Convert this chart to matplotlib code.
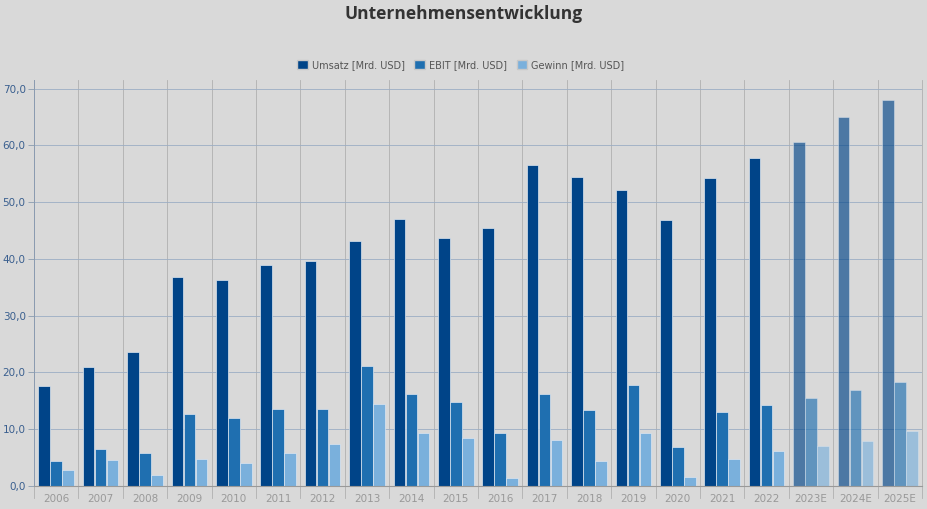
import matplotlib
matplotlib.use("Agg")
import matplotlib.pyplot as plt
import numpy as np
from matplotlib.patches import Patch

jahre = ["2006", "2007", "2008", "2009", "2010", "2011", "2012", "2013", "2014", "2015",
         "2016", "2017", "2018", "2019", "2020", "2021", "2022", "2023E", "2024E", "2025E"]
umsatz = [17.6, 20.9, 23.6, 36.8, 36.2, 39.0, 39.7, 43.1, 47.1, 43.6,
          45.4, 56.5, 54.5, 52.2, 46.8, 54.2, 57.7, 60.5, 64.9, 67.9]
ebit = [4.4, 6.5, 5.8, 12.7, 12.0, 13.5, 13.5, 21.1, 16.2, 14.8,
        9.3, 16.2, 13.4, 17.8, 6.9, 13.0, 14.2, 15.5, 16.9, 18.3]
gewinn = [2.8, 4.6, 1.9, 4.7, 4.0, 5.8, 7.4, 14.4, 9.3, 8.4,
          1.4, 8.1, 4.4, 9.3, 1.6, 4.7, 6.2, 7.0, 7.9, 9.7]
reihen = ["Umsatz [Mrd. USD]", "EBIT [Mrd. USD]", "Gewinn [Mrd. USD]"]
farben = ["#004488", "#1f6fb0", "#7ab0dc"]

bg = "#d9d9d9"
plt.rcParams['font.family'] = ['Open Sans', 'DejaVu Sans']

fig = plt.figure(figsize=(9.27, 5.09), dpi=100, facecolor=bg)
ax = fig.add_axes([34 / 927, 23 / 509, 888 / 927, 406 / 509], facecolor=bg)

x = np.arange(len(jahre))
breite = 0.26
abstand = 0.27
for k, (werte, farbe) in enumerate(zip([umsatz, ebit, gewinn], farben)):
    for i, v in enumerate(werte):
        alpha = 0.65 if jahre[i].endswith("E") else 1.0
        ax.bar(x[i] + (k - 1) * abstand, v, breite, color=farbe, alpha=alpha,
               edgecolor="#dde6f0", linewidth=0.5, zorder=3)

ax.set_xlim(-0.5, len(jahre) - 0.5)
ax.set_ylim(0, 71.5)
ax.set_yticks(np.arange(0, 71, 10))
ax.set_yticklabels([f"{v:.1f}".replace(".", ",") for v in np.arange(0, 71, 10)],
                   fontsize=7.5, color="#3a5f8f", family="DejaVu Sans")
ax.set_xticks(x)
ax.set_xticklabels(jahre, fontsize=7.5, color="#999999", family="DejaVu Sans")
ax.tick_params(axis="x", length=0, pad=6)
ax.tick_params(axis="y", length=4, color="#8a9bb0", width=0.6, pad=2)

ax.grid(axis="y", color="#9cadc4", linewidth=0.6, zorder=0)
for b in np.arange(-0.5, len(jahre), 1.0):
    ax.plot([b, b], [-0.03, 1], transform=ax.get_xaxis_transform(), color="#b0b0b0",
            linewidth=0.6, zorder=1, clip_on=False)

for s in ["top", "right"]:
    ax.spines[s].set_visible(False)
ax.spines["left"].set_color("#8a9bb0")
ax.spines["left"].set_linewidth(0.7)
ax.spines["bottom"].set_color("#999999")
ax.spines["bottom"].set_zorder(4)

fig.text(0.5, 1 - 14 / 509, "Unternehmensentwicklung", ha="center", va="center",
         fontsize=12.5, fontweight="bold", color="#333333")

handles = [Patch(facecolor=f, edgecolor="#c8c8c8", label=r) for f, r in zip(farben, reihen)]
fig.legend(handles=handles, loc="center", bbox_to_anchor=(0.497, 1 - 65 / 509), ncol=3,
           frameon=False, handlelength=1.1, handleheight=1.1,
           handletextpad=0.4, columnspacing=1.0, labelcolor="#555555",
           prop={"family": "DejaVu Sans", "size": 7})

fig.savefig("out.png", dpi=100, facecolor=bg)
